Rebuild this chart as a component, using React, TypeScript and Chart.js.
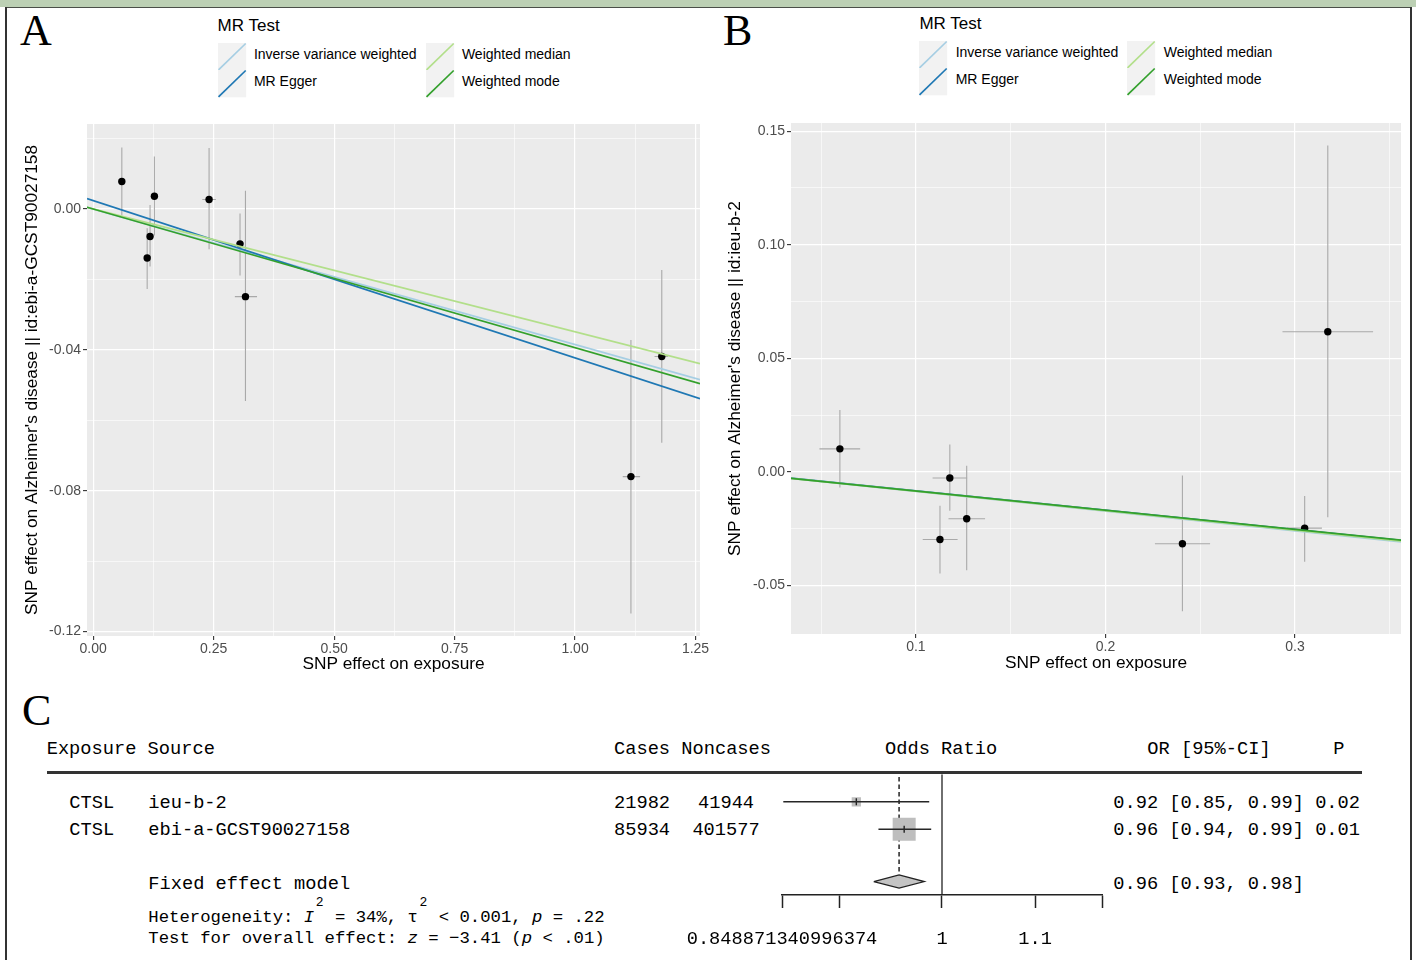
import React, { useEffect, useRef } from "react";
import { Chart, registerables } from "chart.js";

Chart.register(...registerables);

const SANS = "'Liberation Sans', Arial, sans-serif";
const MONO = "'Liberation Mono', 'DejaVu Sans Mono', monospace";
const SERIF = "'Liberation Serif', 'Times New Roman', serif";

// ---------------- MR methods ----------------
const mrMethods = ["Inverse variance weighted", "MR Egger", "Weighted median", "Weighted mode"];
const mrColors = ["#A6CEE3", "#1F78B4", "#B2DF8A", "#33A02C"];

// ---------------- Panel A (outcome ebi-a-GCST90027158) ----------------
const aExpBeta = [0.0594, 0.127, 0.118, 0.112, 0.2405, 0.3047, 0.316, 1.116, 1.18];
const aOutBeta = [0.0078, 0.0036, -0.0078, -0.0139, 0.0027, -0.0099, -0.0249, -0.076, -0.0419];
const aExpLow = [0.0554, 0.122, 0.113, 0.107, 0.2264, 0.2967, 0.294, 1.099, 1.165];
const aExpHigh = [0.0634, 0.132, 0.123, 0.117, 0.2547, 0.3127, 0.34, 1.135, 1.193];
const aOutLow = [-0.0018, -0.0075, -0.0163, -0.0227, -0.0114, -0.0189, -0.0545, -0.1149, -0.0664];
const aOutHigh = [0.0175, 0.0149, 0.0011, -0.0055, 0.0173, -0.0013, 0.0052, -0.0372, -0.0173];
const aIntercepts = [0, 0.0024, 0, 0];
const aSlopes = [-0.0385, -0.0447, -0.0349, -0.0394];
const aXMajor = [0, 0.25, 0.5, 0.75, 1, 1.25];
const aXMinor = [0.125, 0.375, 0.625, 0.875, 1.125];
const aXLabels = ["0.00", "0.25", "0.50", "0.75", "1.00", "1.25"];
const aYMajor = [-0.12, -0.08, -0.04, 0];
const aYMinor = [-0.1, -0.06, -0.02, 0.02];
const aYLabels = ["-0.12", "-0.08", "-0.04", "0.00"];

// ---------------- Panel B (outcome ieu-b-2) ----------------
const bExpBeta = [0.0599, 0.1179, 0.1127, 0.1268, 0.2406, 0.3051, 0.3173];
const bOutBeta = [0.0101, -0.0027, -0.0298, -0.0207, -0.0317, -0.0248, 0.0617];
const bExpLow = [0.0491, 0.1088, 0.1036, 0.1172, 0.2261, 0.2958, 0.2934];
const bExpHigh = [0.0706, 0.127, 0.122, 0.1365, 0.2552, 0.3142, 0.3412];
const bOutLow = [-0.0069, -0.0171, -0.0448, -0.0433, -0.0614, -0.0396, -0.02];
const bOutHigh = [0.0272, 0.012, -0.0149, 0.0027, -0.0016, -0.0107, 0.1437];
const bIntercepts = [0, 0.0002, 0, 0];
const bSlopes = [-0.0866, -0.0855, -0.0858, -0.0845];
const bXMajor = [0.1, 0.2, 0.3];
const bXMinor = [0.05, 0.15, 0.25, 0.35];
const bXLabels = ["0.1", "0.2", "0.3"];
const bYMajor = [-0.05, 0, 0.05, 0.1, 0.15];
const bYMinor = [-0.025, 0.025, 0.075, 0.125];
const bYLabels = ["-0.05", "0.00", "0.05", "0.10", "0.15"];

// ---------------- Panel C (forest) ----------------
const studyExposure = ["CTSL", "CTSL"];
const studySource = ["ieu-b-2", "ebi-a-GCST90027158"];
const studyCases = ["21982", "85934"];
const studyNoncases = ["41944", "401577"];
const studyOR = [0.916, 0.962];
const studyLower = [0.85, 0.937];
const studyUpper = [0.987, 0.989];
const studyWeight = [0.14, 0.86];
const studyP = ["0.02", "0.01"];
const fixedOR = 0.957;
const fixedLower = 0.9325;
const fixedUpper = 0.982;
const forestTicks = [0.848871340996374, 0.9, 1, 1.1, 1 / 0.848871340996374];
const forestTickLabels = ["0.848871340996374", "", "1", "1.1", ""];

// ---------------- plugins ----------------
const panelBg = {
  id: "panelBg",
  beforeDraw(chart: any) {
    const { ctx, chartArea: a } = chart;
    ctx.save();
    ctx.fillStyle = "#EBEBEB";
    ctx.fillRect(a.left, a.top, a.right - a.left, a.bottom - a.top);
    ctx.restore();
  },
};

function errorBarPlugin(id: string, hook: string) {
  return {
    id,
    [hook]: (chart: any) => {
      const { ctx, chartArea: a, scales } = chart;
      const xs = scales.x;
      const ys = scales.y;
      ctx.save();
      ctx.beginPath();
      ctx.rect(a.left, a.top, a.right - a.left, a.bottom - a.top);
      ctx.clip();
      chart.data.datasets.forEach((ds: any) => {
        const eb = ds.errorBars;
        if (!eb) return;
        ctx.strokeStyle = eb.color;
        ctx.lineWidth = eb.width;
        ds.data.forEach((pt: any, i: number) => {
          const px = xs.getPixelForValue(pt.x);
          const py = ys.getPixelForValue(pt.y);
          ctx.beginPath();
          if (eb.yLow) {
            ctx.moveTo(px, ys.getPixelForValue(eb.yLow[i]));
            ctx.lineTo(px, ys.getPixelForValue(eb.yHigh[i]));
          }
          if (eb.xLow) {
            ctx.moveTo(xs.getPixelForValue(eb.xLow[i]), py);
            ctx.lineTo(xs.getPixelForValue(eb.xHigh[i]), py);
          }
          ctx.stroke();
        });
      });
      ctx.restore();
    },
  };
}

function ggAxis(o: any) {
  const values = [...o.major, ...o.minor].sort((a: number, b: number) => a - b);
  const isMajor = (v: number) => o.major.some((m: number) => Math.abs(m - v) < 1e-9);
  return {
    type: "linear",
    position: o.horizontal ? "bottom" : "left",
    min: o.min,
    max: o.max,
    bounds: "data",
    afterBuildTicks: (s: any) => {
      s.ticks = values.map((v: number) => ({ value: v }));
    },
    afterFit: (s: any) => {
      if (o.horizontal) s.height = o.size;
      else s.width = o.size;
    },
    ticks: {
      autoSkip: false,
      maxRotation: 0,
      minRotation: 0,
      padding: o.tickPad,
      color: "#4D4D4D",
      font: { family: SANS, size: 14 },
      callback: (v: number) => {
        const i = o.major.findIndex((m: number) => Math.abs(m - v) < 1e-9);
        return i >= 0 ? o.labels[i] : "";
      },
    },
    grid: {
      color: "#FFFFFF",
      lineWidth: (c: any) => (c.tick && isMajor(c.tick.value) ? 1.2 : 0.6),
      drawTicks: true,
      tickLength: 4,
      tickWidth: 1.1,
      tickColor: (c: any) => (c.tick && isMajor(c.tick.value) ? "#333333" : "rgba(0,0,0,0)"),
    },
    border: { display: false },
    title: {
      display: true,
      text: o.title,
      color: "#000000",
      font: { family: SANS, size: 17.3, lineHeight: 1 },
      padding: { top: o.titlePad, bottom: o.titlePad },
    },
  };
}

function ScatterPanel(p: any) {
  const ref = useRef<HTMLCanvasElement>(null);
  useEffect(() => {
    const lines = mrMethods.map((m, k) => ({
      type: "line",
      label: m,
      data: [
        { x: p.xMin, y: p.intercepts[k] + p.slopes[k] * p.xMin },
        { x: p.xMax, y: p.intercepts[k] + p.slopes[k] * p.xMax },
      ],
      borderColor: mrColors[k],
      backgroundColor: mrColors[k],
      borderWidth: 1.7,
      pointRadius: 0,
      fill: false,
      order: 3 - k,
    }));
    const points = {
      type: "scatter",
      label: "SNP",
      data: p.bx.map((x: number, i: number) => ({ x, y: p.by[i] })),
      backgroundColor: "#000000",
      borderWidth: 0,
      pointRadius: 3.7,
      order: 10,
      errorBars: { xLow: p.bxLo, xHigh: p.bxHi, yLow: p.byLo, yHigh: p.byHi, color: "#A9A9A9", width: 1.1 },
    };
    const chart = new Chart(ref.current as HTMLCanvasElement, {
      type: "scatter",
      data: { datasets: [...lines, points] as any },
      options: {
        animation: false,
        responsive: false,
        devicePixelRatio: 1,
        events: [],
        layout: { padding: { top: p.padTop, right: p.padRight, left: 0, bottom: 0 } },
        plugins: { legend: { display: false }, tooltip: { enabled: false } },
        scales: {
          x: ggAxis({
            horizontal: true, min: p.xMin, max: p.xMax, major: p.xMajor, minor: p.xMinor,
            labels: p.xLabels, size: p.xAxisH, tickPad: 1, title: "SNP effect on exposure", titlePad: p.xTitlePad,
          }),
          y: ggAxis({
            horizontal: false, min: p.yMin, max: p.yMax, major: p.yMajor, minor: p.yMinor,
            labels: p.yLabels, size: p.yAxisW, tickPad: 2, title: p.yTitle, titlePad: p.yTitlePad,
          }),
        } as any,
      },
      plugins: [panelBg, errorBarPlugin("errBelow", "beforeDatasetsDraw")],
    } as any);
    return () => chart.destroy();
  }, []);
  return (
    <canvas
      ref={ref}
      width={p.w}
      height={p.h}
      style={{ position: "absolute", left: p.left, top: p.top, width: p.w, height: p.h }}
    />
  );
}

function ForestPanel() {
  const ref = useRef<HTMLCanvasElement>(null);
  useEffect(() => {
    const rows = [1, 2];
    const fixedRow = 3.9;
    const squares = {
      type: "scatter",
      label: "weights",
      data: studyOR.map((v, i) => ({ x: v, y: rows[i] })),
      pointStyle: "rect",
      pointRadius: studyWeight.map((w) => (Math.sqrt(w) * 24.8) / Math.SQRT2),
      backgroundColor: "#BEBEBE",
      borderWidth: 0,
      order: 1,
    };
    const estimates = {
      type: "scatter",
      label: "estimates",
      data: studyOR.map((v, i) => ({ x: v, y: rows[i] })),
      pointStyle: "line",
      rotation: 90,
      pointRadius: 3.6,
      borderColor: "#222222",
      borderWidth: 1.4,
      order: 0,
      errorBars: { xLow: studyLower, xHigh: studyUpper, color: "#262626", width: 1.5 },
    };
    const diamond = {
      type: "line",
      label: "fixed",
      data: [
        { x: fixedLower, y: fixedRow },
        { x: fixedOR, y: fixedRow - 0.24 },
        { x: fixedUpper, y: fixedRow },
        { x: fixedOR, y: fixedRow + 0.24 },
        { x: fixedLower, y: fixedRow },
      ],
      borderColor: "#222222",
      borderWidth: 1.3,
      backgroundColor: "#C4C4C4",
      fill: "shape",
      pointRadius: 0,
      tension: 0,
      order: 2,
    };
    const dashed = {
      type: "line",
      label: "fixedLine",
      data: [
        { x: fixedOR, y: 0.1 },
        { x: fixedOR, y: fixedRow - 0.3 },
      ],
      borderColor: "#222222",
      borderWidth: 1.5,
      borderDash: [4.5, 3],
      pointRadius: 0,
      fill: false,
      order: 3,
    };
    const nullLine = {
      type: "line",
      label: "null",
      data: [
        { x: 1, y: 0 },
        { x: 1, y: 4.39 },
      ],
      borderColor: "#222222",
      borderWidth: 1.3,
      pointRadius: 0,
      fill: false,
      order: 4,
    };
    const chart = new Chart(ref.current as HTMLCanvasElement, {
      type: "scatter",
      data: { datasets: [estimates, squares, diamond, dashed, nullLine] as any },
      options: {
        animation: false,
        responsive: false,
        devicePixelRatio: 1,
        events: [],
        layout: { padding: { top: 14, right: 38, left: 182, bottom: 0 } },
        plugins: { legend: { display: false }, tooltip: { enabled: false } },
        scales: {
          x: {
            type: "logarithmic",
            position: "bottom",
            min: forestTicks[0],
            max: forestTicks[forestTicks.length - 1],
            bounds: "data",
            afterBuildTicks: (s: any) => {
              s.ticks = forestTicks.map((v) => ({ value: v }));
            },
            afterFit: (s: any) => {
              s.height = 65;
            },
            ticks: {
              autoSkip: false,
              maxRotation: 0,
              minRotation: 0,
              padding: 22,
              color: "#000000",
              font: { family: MONO, size: 18.7, lineHeight: 1 },
              callback: (v: number, i: number) => forestTickLabels[i],
            },
            grid: {
              drawOnChartArea: false,
              drawTicks: true,
              tickLength: 13,
              tickWidth: 1.5,
              tickColor: "#222222",
            },
            border: { display: true, color: "#222222", width: 1.5 },
          },
          y: { type: "linear", display: false, reverse: true, min: 0, max: 4.39 },
        } as any,
      },
      plugins: [errorBarPlugin("errAbove", "afterDatasetsDraw")],
    } as any);
    return () => chart.destroy();
  }, []);
  return (
    <canvas ref={ref} width={540} height={202} style={{ position: "absolute", left: 600, top: 758, width: 540, height: 202 }} />
  );
}

function MrLegend({ x, y }: { x: number; y: number }) {
  const keyW = 28.2;
  const keyH = 27.3;
  return (
    <>
      <div
        style={{
          position: "absolute", left: x, top: y + 15.8, fontFamily: SANS, fontSize: 17,
          lineHeight: "20px", color: "#000", whiteSpace: "nowrap",
        }}
      >
        MR Test
      </div>
      {mrMethods.map((m, k) => {
        const col = k < 2 ? 0 : 1;
        const row = k % 2;
        const kx = x + col * 208;
        const ky = y + 42.7 + row * keyH;
        return (
          <React.Fragment key={m}>
            <svg
              width={keyW}
              height={keyH}
              style={{ position: "absolute", left: kx, top: ky, overflow: "visible" }}
            >
              <rect x={0} y={0} width={keyW} height={keyH} fill="#F2F2F2" />
              <line x1={0.5} y1={keyH - 0.5} x2={keyW - 0.5} y2={0.5} stroke={mrColors[k]} strokeWidth={1.7} />
            </svg>
            <div
              style={{
                position: "absolute", left: kx + 36.3, top: y + 45.5 + row * 27.6, fontFamily: SANS,
                fontSize: 14, lineHeight: "16px", color: "#000", whiteSpace: "nowrap",
              }}
            >
              {m}
            </div>
          </React.Fragment>
        );
      })}
    </>
  );
}

function MonoText({ x, y, size = 18.7, children }: any) {
  return (
    <div
      style={{
        position: "absolute", left: x, top: y - 0.4365 * size, fontFamily: MONO, fontSize: size,
        lineHeight: size + "px", whiteSpace: "pre", color: "#000",
      }}
    >
      {children}
    </div>
  );
}

function Letter({ x, y, ch }: any) {
  return (
    <div
      style={{
        position: "absolute", left: x, top: y, fontFamily: SERIF, fontSize: 44, lineHeight: "44px", color: "#000",
      }}
    >
      {ch}
    </div>
  );
}

export default function App() {
  const rowY = [802, 829];
  const fmt = (v: number) => v.toFixed(2);
  return (
    <div style={{ position: "absolute", left: 0, top: 0, width: 1416, height: 960, overflow: "hidden", background: "#FFFFFF" }}>
      {/* frame */}
      <div style={{ position: "absolute", left: 0, top: 0, width: 1416, height: 7, background: "#BCD0B4" }} />
      <div style={{ position: "absolute", left: 5, top: 6.5, width: 1407, height: 1.8, background: "#4A4F48" }} />
      <div style={{ position: "absolute", left: 5, top: 7, width: 1.8, height: 953, background: "#333" }} />
      <div style={{ position: "absolute", left: 1410, top: 7, width: 2, height: 953, background: "#333" }} />

      <Letter x={20} y={9} ch="A" />
      <Letter x={723} y={9} ch="B" />
      <Letter x={22} y={689} ch="C" />

      <MrLegend x={217.6} y={0} />
      <MrLegend x={919.4} y={-2} />

      <ScatterPanel
        left={10} top={112} w={702} h={562} padTop={12} padRight={12} yAxisW={77} xAxisH={38}
        xMin={-0.01287} xMax={1.25934} yMin={-0.12128} yMax={0.02414}
        xMajor={aXMajor} xMinor={aXMinor} xLabels={aXLabels}
        yMajor={aYMajor} yMinor={aYMinor} yLabels={aYLabels}
        yTitle="SNP effect on Alzheimer's disease || id:ebi-a-GCST90027158"
        xTitlePad={0.85} yTitlePad={13.35}
        bx={aExpBeta} by={aOutBeta} bxLo={aExpLow} bxHi={aExpHigh} byLo={aOutLow} byHi={aOutHigh}
        intercepts={aIntercepts} slopes={aSlopes}
      />
      <ScatterPanel
        left={712} top={111} w={701} h={563} padTop={12} padRight={12} yAxisW={79} xAxisH={40}
        xMin={0.03411} xMax={0.35592} yMin={-0.07142} yMax={0.15359}
        xMajor={bXMajor} xMinor={bXMinor} xLabels={bXLabels}
        yMajor={bYMajor} yMinor={bYMinor} yLabels={bYLabels}
        yTitle="SNP effect on Alzheimer's disease || id:ieu-b-2"
        xTitlePad={1.85} yTitlePad={14.35}
        bx={bExpBeta} by={bOutBeta} bxLo={bExpLow} bxHi={bExpHigh} byLo={bOutLow} byHi={bOutHigh}
        intercepts={bIntercepts} slopes={bSlopes}
      />

      {/* Panel C table */}
      <MonoText x={46.7} y={748.5}>Exposure Source</MonoText>
      <MonoText x={614} y={748.5}>Cases Noncases</MonoText>
      <MonoText x={885} y={748.5}>Odds Ratio</MonoText>
      <MonoText x={1147.3} y={748.5}>OR [95%-CI]</MonoText>
      <MonoText x={1333.3} y={748.5}>P</MonoText>
      <div style={{ position: "absolute", left: 47, top: 771.3, width: 1315, height: 2.4, background: "#333" }} />
      {studySource.map((s, i) => (
        <React.Fragment key={s}>
          <MonoText x={69.3} y={rowY[i]}>{studyExposure[i]}</MonoText>
          <MonoText x={148.3} y={rowY[i]}>{s}</MonoText>
          <MonoText x={642 - studyCases[i].length * 5.6} y={rowY[i]}>{studyCases[i]}</MonoText>
          <MonoText x={726 - studyNoncases[i].length * 5.6} y={rowY[i]}>{studyNoncases[i]}</MonoText>
          <MonoText x={1113.3} y={rowY[i]}>
            {`${fmt(studyOR[i])} [${fmt(studyLower[i])}, ${fmt(studyUpper[i])}] ${studyP[i]}`}
          </MonoText>
        </React.Fragment>
      ))}
      <MonoText x={148.3} y={883}>Fixed effect model</MonoText>
      <MonoText x={1113.3} y={883}>{`${fmt(fixedOR)} [${fmt(fixedLower)}, ${fmt(fixedUpper)}]`}</MonoText>
      <MonoText x={148.3} y={916.7} size={17.3}>
        {"Heterogeneity: "}<i>I</i>{"  = 34%, \u03c4  < 0.001, "}<i>p</i>{" = .22"}
      </MonoText>
      <MonoText x={315.7} y={902} size={13}>2</MonoText>
      <MonoText x={419.5} y={902} size={13}>2</MonoText>
      <MonoText x={148.3} y={937.5} size={17.3}>
        {"Test for overall effect: "}<i>z</i>{" = \u22123.41 ("}<i>p</i>{" < .01)"}
      </MonoText>

      <ForestPanel />
    </div>
  );
}
